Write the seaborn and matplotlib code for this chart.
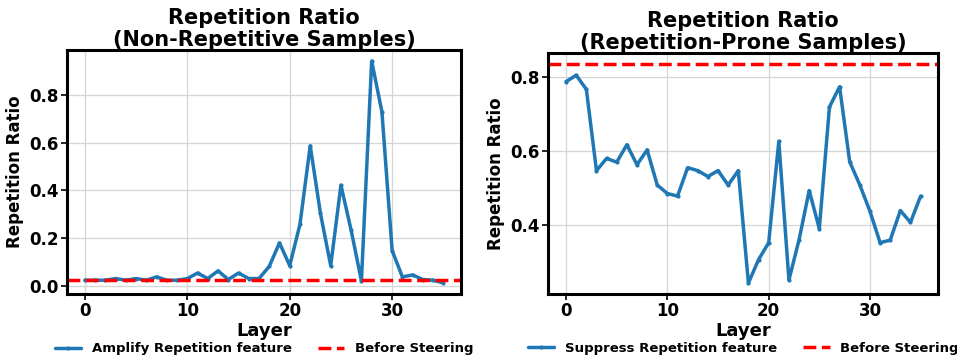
import matplotlib
matplotlib.use("Agg")
import matplotlib.pyplot as plt
import seaborn as sns
import numpy as np
import pandas as pd

# values
layers = list(range(36))
amplify_ratio = [0.025, 0.025, 0.025, 0.032, 0.025, 0.032, 0.025, 0.039, 0.025, 0.025,
                 0.032, 0.055, 0.032, 0.064, 0.028, 0.055, 0.032, 0.032, 0.083, 0.181,
                 0.086, 0.259, 0.587, 0.304, 0.086, 0.422, 0.233, 0.022, 0.941, 0.729,
                 0.149, 0.039, 0.047, 0.028, 0.025, 0.014]
suppress_ratio = [0.789, 0.806, 0.768, 0.548, 0.581, 0.571, 0.618, 0.564, 0.604, 0.509,
                  0.486, 0.479, 0.556, 0.548, 0.532, 0.548, 0.509, 0.548, 0.244, 0.307,
                  0.353, 0.627, 0.252, 0.361, 0.494, 0.391, 0.720, 0.775, 0.572, 0.509,
                  0.438, 0.353, 0.360, 0.440, 0.408, 0.479]
baseline_nonrep = 0.025
baseline_prone = 0.837

titles = ["Repetition Ratio\n(Non-Repetitive Samples)", "Repetition Ratio\n(Repetition-Prone Samples)"]
series_labels = ["Amplify Repetition feature", "Suppress Repetition feature"]

sns.set_style("whitegrid")
plt.rcParams["font.family"] = ["DejaVu Sans"]
plt.rcParams["font.weight"] = "bold"
plt.rcParams["axes.labelweight"] = "bold"
plt.rcParams["axes.titleweight"] = "bold"
plt.rcParams["text.color"] = "black"
plt.rcParams["axes.labelcolor"] = "black"
plt.rcParams["xtick.color"] = "black"
plt.rcParams["ytick.color"] = "black"

fig = plt.figure(figsize=(9.57, 3.62), dpi=100)
ax1 = fig.add_axes([0.070, 0.188, 0.412, 0.674])
ax2 = fig.add_axes([0.573, 0.188, 0.4075, 0.666])

panels = [
    (ax1, amplify_ratio, baseline_nonrep, titles[0], series_labels[0]),
    (ax2, suppress_ratio, baseline_prone, titles[1], series_labels[1]),
]

for ax, vals, base, title, lab in panels:
    df = pd.DataFrame({"Layer": layers, "Ratio": vals})
    sns.lineplot(data=df, x="Layer", y="Ratio", ax=ax, color="#1f77b4", linewidth=2.5,
                 marker="o", markersize=3, markeredgewidth=0, label=lab)
    ax.axhline(base, color="red", linestyle="--", linewidth=2.5, label="Before Steering")
    ax.set_title(title, fontsize=15, fontweight="bold", pad=3, color="black", linespacing=1.1)
    ax.set_xlabel("Layer", fontsize=13, fontweight="bold", labelpad=1)
    ax.set_ylabel("Repetition Ratio", fontsize=12, fontweight="bold")
    ax.set_xticks([0, 10, 20, 30])
    ax.tick_params(axis="both", labelsize=12, length=4, width=1.2, color="black",
                   bottom=True, left=True, pad=2)
    for lbl in ax.get_xticklabels() + ax.get_yticklabels():
        lbl.set_fontweight("bold")
    for sp in ax.spines.values():
        sp.set_color("black")
        sp.set_linewidth(2.2)
    ax.grid(True, color="#d5d5d5", linewidth=0.9)
    ax.legend(loc="center", bbox_to_anchor=(0.5, -0.225), ncol=2, frameon=False,
              prop={"weight": "bold", "size": 9.5}, handlelength=2.0, columnspacing=2.0)

ax1.set_yticks([0.0, 0.2, 0.4, 0.6, 0.8])
ax2.set_yticks([0.4, 0.6, 0.8])

fig.savefig("out.png", dpi=100)
